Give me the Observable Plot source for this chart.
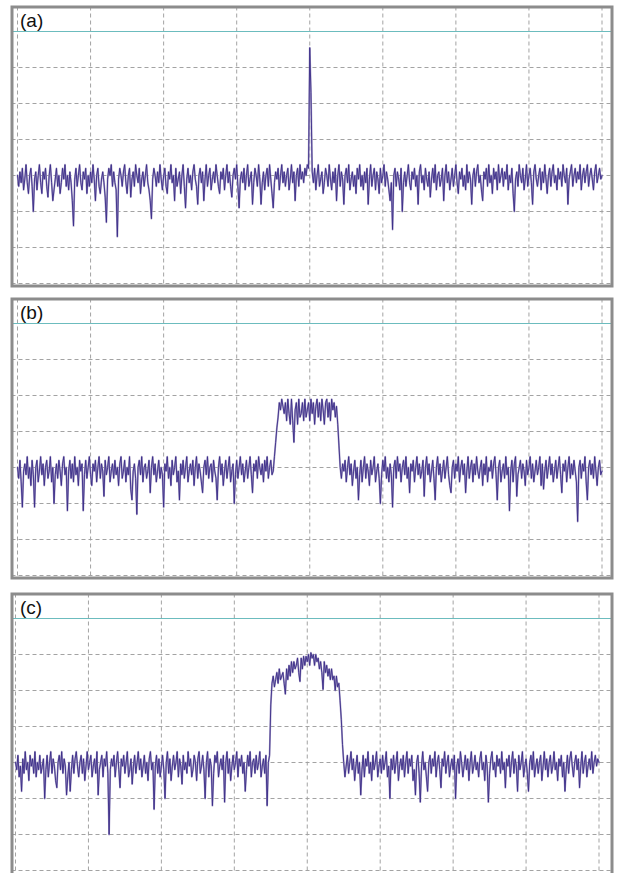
<!DOCTYPE html>
<html><head><meta charset="utf-8">
<script src="https://cdn.jsdelivr.net/npm/d3@7"></script>
<script src="https://cdn.jsdelivr.net/npm/@observablehq/plot@0.6"></script>
<style>
html,body{margin:0;padding:0;overflow:hidden;background:#fff}
#root{position:relative;width:619px;height:873px;overflow:hidden}
.panel{position:absolute;left:0}
</style></head><body><div id="root"></div>
<script>
// Panel labels
const labels = ["(a)", "(b)", "(c)"];

// Trace levels in dB relative to the reference line (10 dB / division), 481 sweep points
const traceA = [
-40,-43,-39,-42,-38,-44,-41,-37,-42,-45,-40,-38,-43,-50,-41,-39,-44,-40,-37,-42,
-45,-39,-41,-38,-43,-46,-40,-37,-42,-47,-44,-41,-38,-43,-40,-45,-42,-38,-41,-37,
-43,-40,-44,-39,-42,-47,-54,-41,-38,-43,-40,-37,-42,-44,-39,-41,-38,-45,-40,-43,
-39,-42,-37,-41,-47,-40,-38,-43,-45,-41,-39,-42,-46,-53,-41,-38,-40,-37,-43,-39,
-42,-44,-57,-41,-38,-40,-43,-39,-37,-42,-45,-40,-38,-46,-41,-39,-43,-37,-40,-42,
-38,-45,-41,-39,-43,-40,-37,-42,-44,-47,-52,-41,-38,-40,-43,-39,-42,-37,-41,-44,
-40,-38,-43,-45,-39,-41,-37,-42,-40,-47,-38,-43,-41,-39,-45,-40,-37,-43,-49,-41,
-38,-42,-40,-44,-39,-37,-41,-43,-48,-40,-38,-42,-39,-47,-41,-37,-43,-40,-38,-44,
-41,-39,-42,-37,-40,-43,-45,-39,-41,-38,-44,-40,-37,-42,-39,-43,-46,-40,-38,-41,
-37,-43,-49,-41,-39,-42,-38,-44,-40,-37,-43,-41,-39,-48,-42,-38,-40,-43,-37,-41,
-48,-42,-39,-44,-40,-38,-43,-37,-41,-45,-49,-42,-39,-41,-38,-44,-40,-37,-42,-39,
-43,-40,-38,-44,-41,-37,-42,-39,-47,-40,-38,-43,-37,-41,-39,-42,-38,-40,-37,-38,
-4.5,-17,-39,-42,-38,-44,-40,-37,-43,-41,-39,-45,-42,-38,-40,-43,-37,-41,-44,-39,
-42,-38,-47,-40,-37,-43,-39,-41,-48,-40,-38,-42,-37,-44,-41,-39,-43,-40,-45,-38,
-41,-37,-43,-40,-44,-39,-42,-38,-48,-41,-37,-43,-40,-38,-44,-39,-41,-45,-38,-42,
-40,-37,-43,-39,-41,-44,-47,-42,-55,-40,-38,-43,-39,-41,-44,-38,-50,-42,-39,-43,
-40,-37,-42,-44,-39,-41,-38,-43,-40,-48,-39,-37,-42,-40,-44,-38,-41,-43,-39,-46,
-41,-38,-42,-37,-44,-40,-39,-43,-41,-38,-47,-40,-37,-42,-39,-44,-41,-38,-43,-40,
-37,-42,-45,-39,-41,-38,-43,-40,-44,-37,-42,-39,-41,-48,-40,-38,-43,-39,-37,-42,
-40,-44,-47,-39,-41,-38,-43,-37,-42,-40,-45,-38,-41,-39,-44,-37,-42,-40,-38,-43,
-39,-41,-37,-44,-40,-42,-38,-45,-50,-41,-39,-43,-37,-40,-42,-38,-44,-41,-37,-43,
-40,-38,-42,-48,-39,-37,-41,-43,-40,-38,-44,-39,-42,-37,-41,-45,-40,-38,-43,-39,
-37,-42,-40,-44,-38,-41,-39,-43,-37,-40,-42,-38,-48,-41,-39,-37,-43,-40,-38,-42,
-39,-41,-37,-44,-40,-38,-42,-39,-37,-43,-40,-38,-41,-44,-39,-37,-42,-40,-38,-41,
-40
];
const traceB = [
-40,-43,-38,-44,-51,-41,-39,-42,-37,-43,-40,-45,-38,-42,-51,-40,-38,-44,-41,-37,
-42,-39,-45,-40,-38,-43,-41,-37,-44,-40,-50,-42,-39,-43,-38,-41,-45,-39,-37,-42,
-40,-52,-41,-38,-43,-39,-44,-37,-42,-40,-45,-38,-41,-39,-52,-42,-38,-43,-40,-37,
-42,-45,-39,-41,-38,-44,-40,-37,-43,-39,-41,-48,-38,-42,-40,-37,-44,-41,-39,-43,
-38,-42,-40,-45,-39,-37,-43,-41,-38,-44,-40,-42,-37,-46,-49,-41,-39,-43,-53,-40,
-38,-42,-37,-44,-40,-39,-43,-41,-38,-47,-40,-37,-42,-39,-44,-41,-38,-43,-40,-42,
-51,-39,-41,-37,-43,-40,-45,-38,-42,-40,-37,-44,-41,-49,-39,-42,-38,-43,-40,-37,
-44,-41,-39,-42,-38,-45,-40,-37,-43,-39,-41,-44,-47,-40,-38,-42,-37,-43,-40,-39,
-44,-38,-41,-43,-49,-40,-37,-42,-39,-45,-41,-38,-43,-40,-37,-44,-41,-39,-50,-42,
-38,-43,-40,-37,-42,-39,-44,-41,-38,-43,-40,-37,-42,-47,-39,-41,-38,-43,-37,-40,
-42,-39,-44,-38,-41,-37,-43,-40,-38,-42,-41,-37,-33,-29,-26,-22,-24,-21,-23,-25,
-22,-27,-21,-25,-28,-21,-27,-33,-24,-22,-28,-21,-26,-25,-22,-27,-21,-26,-24,-22,
-27,-21,-25,-22,-28,-23,-21,-26,-22,-27,-21,-24,-28,-22,-21,-26,-22,-27,-21,-24,
-22,-26,-23,-28,-34,-40,-43,-39,-41,-38,-44,-40,-37,-42,-39,-45,-41,-38,-43,-40,
-49,-42,-38,-44,-40,-37,-43,-39,-41,-45,-38,-42,-40,-37,-44,-41,-39,-43,-50,-42,
-38,-41,-37,-43,-40,-44,-39,-42,-51,-40,-38,-43,-37,-41,-39,-44,-40,-38,-42,-37,
-43,-40,-47,-39,-41,-38,-44,-40,-37,-42,-39,-43,-41,-38,-48,-40,-37,-42,-39,-44,
-41,-38,-43,-49,-40,-37,-42,-39,-44,-41,-38,-43,-40,-37,-42,-45,-47,-40,-38,-43,
-39,-41,-37,-44,-40,-38,-42,-39,-47,-41,-37,-43,-40,-38,-44,-39,-42,-37,-41,-43,
-40,-38,-45,-39,-42,-37,-44,-40,-41,-38,-43,-39,-37,-42,-49,-40,-38,-44,-41,-39,
-43,-37,-42,-40,-52,-41,-38,-44,-39,-37,-48,-42,-40,-38,-43,-39,-41,-45,-38,-42,
-40,-37,-43,-39,-44,-41,-38,-42,-40,-37,-45,-39,-46,-41,-38,-43,-40,-37,-42,-39,
-44,-41,-38,-43,-40,-37,-42,-47,-39,-41,-38,-44,-40,-37,-43,-39,-42,-38,-41,-44,
-55,-40,-38,-43,-39,-41,-37,-44,-49,-40,-38,-42,-39,-43,-37,-41,-45,-40,-38,-42,
-41
];
const traceC = [
-40,-42,-38,-44,-41,-48,-39,-43,-37,-42,-40,-45,-38,-41,-39,-43,-37,-44,-40,-42,
-38,-43,-41,-39,-50,-42,-38,-44,-40,-37,-43,-39,-41,-45,-47,-40,-38,-42,-37,-43,
-39,-41,-49,-44,-40,-48,-42,-38,-43,-39,-37,-41,-44,-40,-38,-43,-39,-45,-41,-37,
-42,-40,-38,-44,-41,-39,-43,-37,-49,-42,-40,-38,-44,-39,-41,-37,-43,-60,-42,-39,
-41,-38,-44,-40,-37,-42,-47,-39,-41,-38,-43,-40,-37,-44,-42,-39,-46,-41,-38,-43,
-40,-37,-42,-39,-44,-41,-38,-43,-40,-45,-39,-37,-42,-40,-53,-41,-38,-43,-39,-44,
-41,-38,-42,-50,-40,-37,-43,-39,-45,-41,-38,-42,-40,-37,-44,-39,-41,-46,-38,-42,
-40,-43,-37,-41,-39,-44,-42,-38,-40,-45,-39,-37,-43,-41,-38,-42,-50,-40,-37,-44,
-39,-41,-52,-43,-38,-40,-37,-44,-41,-39,-42,-38,-51,-40,-37,-43,-39,-45,-41,-38,
-42,-40,-37,-44,-39,-41,-38,-43,-40,-48,-42,-38,-41,-37,-44,-40,-39,-43,-38,-42,
-40,-37,-44,-41,-39,-43,-38,-52,-40,-38,-24,-18,-16,-19,-17,-15,-18,-14,-17,-16,
-15,-18,-21,-14,-17,-13,-16,-12,-15,-12,-14,-13,-11,-15,-17.5,-11,-14,-10.5,-13,-10.5,
-12,-10,-13,-9.5,-11,-10,-13,-10,-12,-11,-14,-12,-15,-19.7,-12,-15,-13,-16,-14,-17,
-14,-17,-16,-20,-16,-19,-18,-22.8,-28,-35,-40,-44,-41,-38,-43,-40,-37,-42,-39,-45,
-41,-38,-43,-40,-49,-42,-38,-44,-39,-41,-37,-43,-40,-45,-38,-42,-40,-37,-44,-41,
-39,-43,-38,-42,-40,-37,-44,-41,-50,-39,-42,-38,-43,-40,-37,-45,-41,-39,-42,-38,
-44,-40,-37,-43,-39,-41,-38,-45,-42,-49,-40,-38,-43,-51,-41,-37,-42,-40,-44,-48,
-40,-38,-43,-39,-41,-37,-44,-40,-38,-42,-47,-39,-41,-37,-43,-40,-38,-44,-41,-39,
-42,-38,-50,-41,-39,-43,-37,-40,-44,-41,-38,-42,-39,-45,-40,-37,-43,-41,-38,-42,
-40,-44,-39,-37,-42,-40,-45,-38,-41,-51,-43,-39,-37,-42,-40,-44,-38,-41,-39,-43,
-37,-42,-40,-47,-39,-41,-38,-44,-40,-37,-43,-39,-41,-48,-38,-42,-40,-37,-44,-41,
-39,-43,-48,-40,-38,-42,-37,-44,-41,-39,-43,-40,-38,-45,-41,-37,-42,-39,-44,-40,
-38,-43,-41,-37,-42,-40,-45,-39,-41,-38,-44,-40,-48,-42,-38,-43,-39,-37,-41,-44,
-40,-38,-42,-39,-47,-41,-37,-43,-40,-38,-44,-41,-39,-42,-37,-43,-40,-38,-41,-39,
-40
];

// Grid positions (sweep point index) and level grid (dB)
const freqTicks = [0, 60, 120, 180, 240, 300, 360, 420, 480];
const levelTicks = [-10, -20, -30, -40, -50, -60, -70];
const refLevel = [0];

const traces = [traceA, traceB, traceC];

// layout (pixels)
const W = 619, H = 292;
const tops = [0, 292, 587];
const gridX = [[17, 601.5], [17, 601.5], [15, 598.5]];
const frameBs = [285.5, 285.5, 292];
const frameL = 11.5, frameR = 611.5, frameT = 6.5;
const gridT = 31, gridB = 283;

const root = document.getElementById("root");

traces.forEach((trace, k) => {
  const [gl, gr] = gridX[k];
  const frameB = frameBs[k];
  const pxPerX = (gr - gl) / (freqTicks[freqTicks.length - 1] - freqTicks[0]);
  const xMin = freqTicks[0] - (gl - frameL) / pxPerX;
  const xMax = freqTicks[freqTicks.length - 1] + (frameR - gr) / pxPerX;
  const pxPerY = (gridB - gridT) / (refLevel[0] - levelTicks[levelTicks.length - 1]);
  const yMax = refLevel[0] + (gridT - frameT) / pxPerY;
  const yMin = levelTicks[levelTicks.length - 1] - (frameB - gridB) / pxPerY;
  const h = k === 2 ? 300 : H;

  const chart = Plot.plot({
    width: W,
    height: h,
    marginLeft: frameL,
    marginRight: W - frameR,
    marginTop: frameT,
    marginBottom: h - frameB,
    x: {domain: [xMin, xMax], axis: null},
    y: {domain: [yMin, yMax], axis: null},
    style: {background: "transparent", overflow: "visible"},
    marks: [
      Plot.ruleX(freqTicks, {stroke: "#a3a3a3", strokeWidth: 1, strokeDasharray: "4,3"}),
      Plot.ruleY(levelTicks, {stroke: "#a3a3a3", strokeWidth: 1, strokeDasharray: "4,3"}),
      Plot.ruleY(refLevel, {stroke: "#6cbcbe", strokeWidth: 1}),
      Plot.lineY(trace, {stroke: "#a79ec6", strokeWidth: 1.8, strokeLinejoin: "round"}),
      Plot.lineY(trace, {stroke: "#3a2b88", strokeWidth: 0.9}),
      Plot.frame({stroke: "#8c8c8c", strokeWidth: 3}),
      Plot.text([labels[k]], {
        frameAnchor: "top-left", dx: 8, dy: 6, lineAnchor: "top", textAnchor: "start",
        fontSize: 19, fill: "#111", fontFamily: "Liberation Sans, Arial, sans-serif"
      })
    ]
  });
  chart.classList.add("panel");
  chart.style.top = tops[k] + "px";
  root.appendChild(chart);
});
</script>
</body></html>
